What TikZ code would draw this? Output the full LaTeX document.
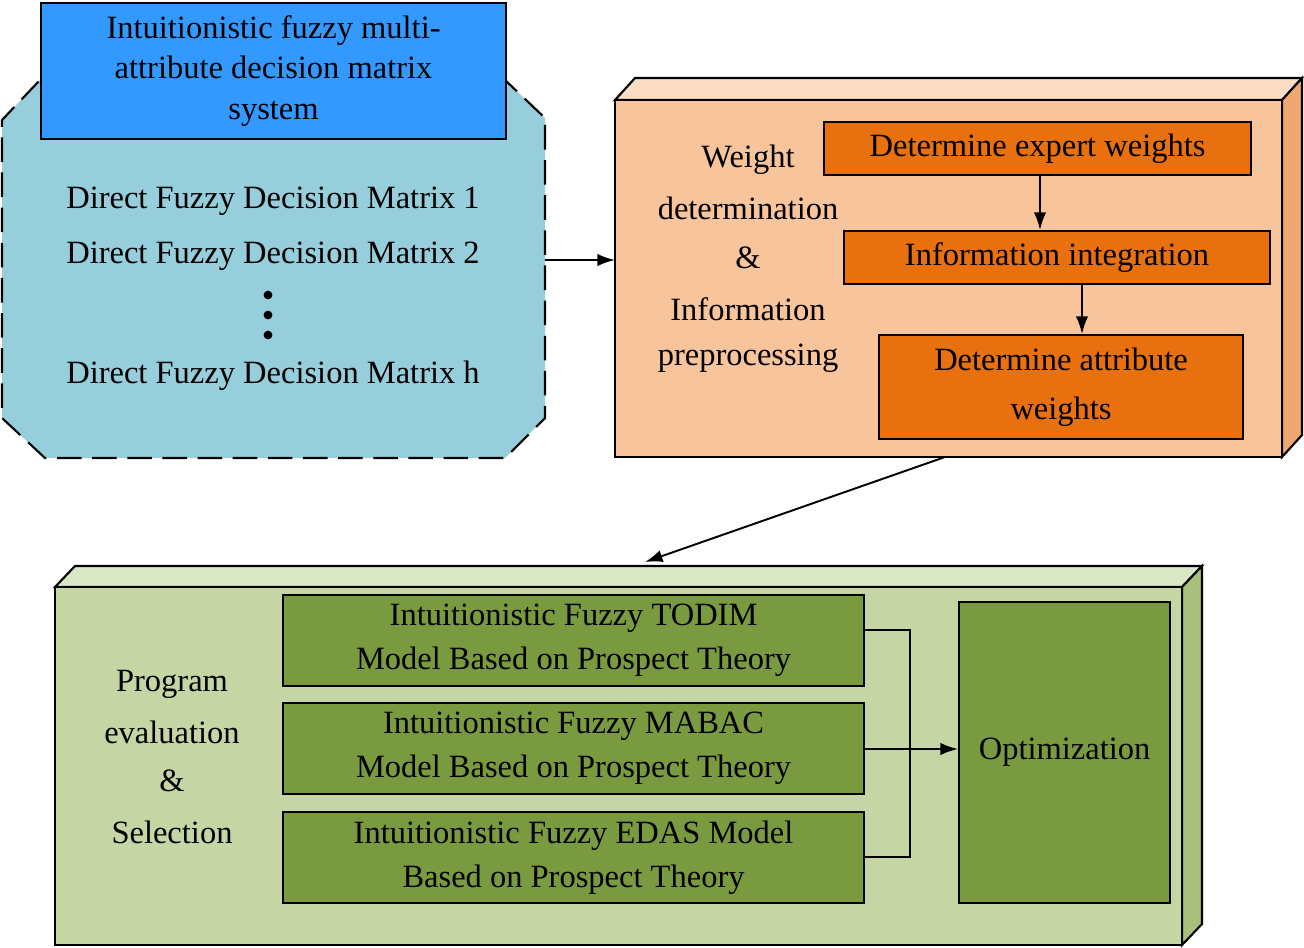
\documentclass[tikz,border=0pt]{standalone}
\usepackage{fontspec}
\setmainfont{Liberation Serif}
\usetikzlibrary{arrows.meta}
\begin{document}
\begin{tikzpicture}[x=0.02cm,y=-0.02cm,line width=1.2pt,
  txt/.style={font=\fontsize{18.5}{22}\selectfont,align=center,inner sep=0pt},
  box/.style={draw=black,txt,anchor=north west},
  arr/.style={-{Latex[length=10pt,width=7pt]},line width=1.1pt}]
\useasboundingbox (0,0) rectangle (1304,947);
\definecolor{cy}{HTML}{96CEDC}\definecolor{bl}{HTML}{3399FF}
\definecolor{orf}{HTML}{F8C49C}\definecolor{ort}{HTML}{FBDCC4}\definecolor{ors}{HTML}{F0A872}
\definecolor{orb}{HTML}{E8700F}
\definecolor{grf}{HTML}{C5D6A4}\definecolor{grt}{HTML}{DAE7C4}\definecolor{grs}{HTML}{A9C07C}
\definecolor{grb}{HTML}{7A9A40}
% octagon
\draw[fill=cy,dashed,dash pattern=on 14pt off 6pt] (40,80)--(505,80)--(545,118)--(545,418)--(505,458)--(45,458)--(2,418)--(2,120)--cycle;
\node[box,fill=bl,minimum width=465*0.02cm,minimum height=136*0.02cm,font=\fontsize{18.5}{23}\selectfont] (sys) at (40,2) {Intuitionistic fuzzy multi-\\attribute decision matrix\\system};
\node[txt] (m1) at (273,201) {Direct Fuzzy Decision Matrix 1};
\node[txt] (m2) at (273,256) {Direct Fuzzy Decision Matrix 2};
\foreach \y in {295,315,335} \fill (268,\y) circle (2.5pt);
\node[txt] (mh) at (273,376) {Direct Fuzzy Decision Matrix h};
\coordinate (oct) at (545,260);
% orange 3D box
\draw[fill=ort] (615,100)--(635,78)--(1302,78)--(1282,100)--cycle;
\draw[fill=ors] (1282,100)--(1302,78)--(1302,435)--(1282,457)--cycle;
\draw[fill=orf] (615,100) rectangle (1282,457);
\coordinate (ob) at (615,260);
\coordinate (obot) at (945,457);
\node[txt] at (748,160) {Weight};
\node[txt] at (748,208) {determination};
\node[txt] at (748,258) {\&};
\node[txt] at (748,309) {Information};
\node[txt] at (748,358) {preprocessing};
\node[box,fill=orb,minimum width=427*0.02cm,minimum height=53*0.02cm] (e1) at (823,121) {Determine expert weights};
\node[box,fill=orb,minimum width=426*0.02cm,minimum height=53*0.02cm] (e2) at (843,230) {Information integration};
\node[box,fill=orb,minimum width=364*0.02cm,minimum height=104*0.02cm,font=\fontsize{18.5}{28}\selectfont] (e3) at (878,334) {Determine attribute\\weights};
\draw[arr] (oct)--(ob);
\draw[arr] (e1.south -| 1040,0)--(e2.north -| 1040,0);
\draw[arr] (e2.south -| 1082,0)--(e3.north -| 1082,0);
% green 3D box
\draw[fill=grt] (55,587)--(75,566)--(1202,566)--(1182,587)--cycle;
\draw[fill=grs] (1182,587)--(1202,566)--(1202,924)--(1182,945)--cycle;
\draw[fill=grf] (55,587) rectangle (1182,945);
\coordinate (gtop) at (645,562);
\draw[arr] (obot)--(gtop);
\node[txt] at (172,684) {Program};
\node[txt] at (172,732) {evaluation};
\node[txt] at (172,781) {\&};
\node[txt] at (172,832) {Selection};
\tikzset{gb/.style={box,fill=grb,minimum width=581*0.02cm,minimum height=91*0.02cm,font=\fontsize{18.5}{25}\selectfont}}
\node[gb] (g1) at (282,594) {Intuitionistic Fuzzy TODIM\\Model Based on Prospect Theory};
\node[gb] (g2) at (282,702) {Intuitionistic Fuzzy MABAC\\Model Based on Prospect Theory};
\node[gb] (g3) at (282,811) {Intuitionistic Fuzzy EDAS Model\\Based on Prospect Theory};
\node[box,fill=grb,minimum width=211*0.02cm,minimum height=301*0.02cm] (opt) at (958,601) {Optimization};
\draw (g1.east |- 0,630) -- (910,630) -- (910,857) -- (g3.east |- 0,857);
\draw[arr] (g2.east |- 0,749) -- (opt.west |- 0,749);
\end{tikzpicture}
\end{document}
